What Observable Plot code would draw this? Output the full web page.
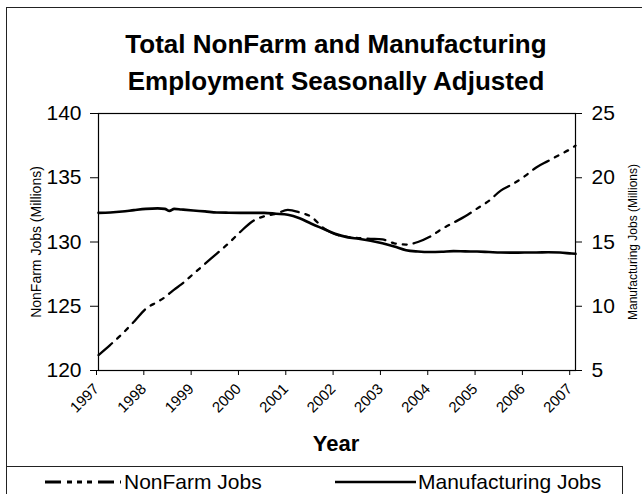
<!DOCTYPE html>
<html>
<head>
<meta charset="utf-8">
<script src="https://cdn.jsdelivr.net/npm/d3@7"></script>
<script src="https://cdn.jsdelivr.net/npm/@observablehq/plot@0.6"></script>
<style>
  html, body { margin: 0; padding: 0; background: #fff; }
  #wrap { position: relative; width: 642px; height: 494px; overflow: hidden; font-family: "Liberation Sans", Arial, sans-serif; color: #000; }
  #wrap svg { position: absolute; left: 0; top: 0; }
  .abs { position: absolute; white-space: nowrap; }
</style>
</head>
<body>
<div id="wrap"></div>
<script>
const titleLines = ["Total NonFarm and Manufacturing", "Employment Seasonally Adjusted"];
const xTitle = "Year";
const yLeftTitle = "NonFarm Jobs (Millions)";
const yRightTitle = "Manufacturing Jobs (Millions)";
const seriesNames = ["NonFarm Jobs", "Manufacturing Jobs"];
const yearTicks = [1997, 1998, 1999, 2000, 2001, 2002, 2003, 2004, 2005, 2006, 2007];
const leftTicks = [120, 125, 130, 135, 140];
const rightTicks = [5, 10, 15, 20, 25];

const times = [1997.0, 1997.25, 1997.5, 1997.75, 1998.0, 1998.25, 1998.4, 1998.5, 1998.6, 1998.75,
  1999.0, 1999.25, 1999.5, 1999.75, 2000.0, 2000.25, 2000.5, 2000.75,
  2001.0, 2001.25, 2001.5, 2001.75, 2002.0, 2002.25, 2002.5, 2002.75,
  2003.0, 2003.25, 2003.5, 2003.75, 2004.0, 2004.25, 2004.5, 2004.75,
  2005.0, 2005.25, 2005.5, 2005.75, 2006.0, 2006.25, 2006.5, 2006.75, 2007.0, 2007.08];
const nonfarm = [121.2, 122.0, 122.85, 123.8, 124.8, 125.35, 125.7, 126.0, 126.3, 126.7,
  127.5, 128.3, 129.1, 129.9, 130.8, 131.6, 132.0, 132.2,
  132.5, 132.3, 131.95, 131.1, 130.6, 130.4, 130.3, 130.25,
  130.2, 129.9, 129.8, 130.0, 130.4, 131.0, 131.5, 132.0,
  132.6, 133.2, 134.0, 134.5, 135.1, 135.8, 136.3, 136.8, 137.3, 137.5];
const manufacturing = [17.27, 17.3, 17.37, 17.48, 17.58, 17.62, 17.58, 17.42, 17.58, 17.53,
  17.45, 17.38, 17.3, 17.28, 17.27, 17.27, 17.27, 17.2,
  17.12, 16.85, 16.42, 16.03, 15.64, 15.38, 15.25, 15.1,
  14.9, 14.65, 14.36, 14.26, 14.22, 14.24, 14.29, 14.27,
  14.26, 14.22, 14.18, 14.17, 14.18, 14.18, 14.2, 14.18, 14.1, 14.08];

// right axis (5..25) is aligned onto the left axis (120..140)
const leftDomain = [120, 140];
const rightDomain = [5, 25];
const offset = leftDomain[0] - rightDomain[0];

const rowsNF = times.map((t, i) => ({t, v: nonfarm[i]}));
const rowsMF = times.map((t, i) => ({t, v: manufacturing[i] + offset}));

const FONT = '"Liberation Sans", Arial, sans-serif';

const chart = Plot.plot({
  width: 642,
  height: 494,
  marginLeft: 98,
  marginRight: 67,
  marginTop: 113,
  marginBottom: 124,
  style: {fontFamily: FONT, color: "#000", background: "transparent", overflow: "visible"},
  x: {domain: [1997, 2007.08], label: null},
  y: {domain: leftDomain, label: null},
  marks: [
    Plot.frame({stroke: "#000", strokeWidth: 1.2}),
    Plot.axisY(leftTicks, {anchor: "left", tickSize: 8, tickPadding: 9, fontSize: 21, label: null, stroke: "#000"}),
    Plot.axisY(rightTicks.map(d => d + offset), {anchor: "right", tickSize: 6, tickPadding: 10, fontSize: 21, label: null, stroke: "#000",
      tickFormat: d => String(d - offset)}),
    Plot.axisX(yearTicks, {anchor: "bottom", tickSize: 5, tickPadding: 11, tickRotate: -45, fontSize: 15, label: null,
      stroke: "#000", dx: -2, tickFormat: d => String(d)}),
    Plot.line(rowsMF, {x: "t", y: "v", stroke: "#000", strokeWidth: 2.6, curve: "monotone-x"}),
    Plot.line(rowsNF, {x: "t", y: "v", stroke: "#000", strokeWidth: 2.3, strokeDasharray: "18,7,4,7,4,7", curve: "monotone-x"})
  ]
});

const wrap = document.getElementById("wrap");
wrap.appendChild(chart);

function addDiv(html, css) {
  const d = document.createElement("div");
  d.className = "abs";
  d.innerHTML = html;
  Object.assign(d.style, css);
  wrap.appendChild(d);
  return d;
}

// outer chart border (left and top)
addDiv("", {left: "6px", top: "7px", width: "700px", height: "600px", border: "1.5px solid #222", boxSizing: "border-box"});
// legend box
addDiv("", {left: "6px", top: "466px", width: "617px", height: "60px", border: "1.2px solid #222", boxSizing: "border-box", background: "#fff"});

// title
addDiv(titleLines.join("<br>"), {left: "0px", width: "672px", top: "26px", textAlign: "center", fontWeight: "bold",
  fontSize: "26px", lineHeight: "37px"});

// x title
addDiv(xTitle, {left: "286px", width: "100px", top: "432px", textAlign: "center", fontWeight: "bold", fontSize: "22px", lineHeight: "24px"});

// y titles
addDiv(yLeftTitle, {left: "36px", top: "242px", fontSize: "14px", lineHeight: "16px", transform: "translate(-50%,-50%) rotate(-90deg)"});
addDiv(yRightTitle, {left: "633px", top: "242px", fontSize: "12px", lineHeight: "14px", transform: "translate(-50%,-50%) rotate(-90deg)"});

// legend
const lg = document.createElementNS("http://www.w3.org/2000/svg", "svg");
lg.setAttribute("width", "642");
lg.setAttribute("height", "494");
lg.style.position = "absolute"; lg.style.left = "0"; lg.style.top = "0";
lg.innerHTML = `
  <line x1="45" x2="121" y1="482" y2="482" stroke="#000" stroke-width="3" stroke-dasharray="16,6,5,5,5,5,5,6"/>
  <line x1="335" x2="416" y1="482" y2="482" stroke="#000" stroke-width="2.6"/>
`;
wrap.appendChild(lg);
addDiv(seriesNames[0], {left: "124px", top: "470px", fontSize: "21px", lineHeight: "24px"});
addDiv(seriesNames[1], {left: "418px", top: "470px", fontSize: "21px", lineHeight: "24px"});
</script>
</body>
</html>
